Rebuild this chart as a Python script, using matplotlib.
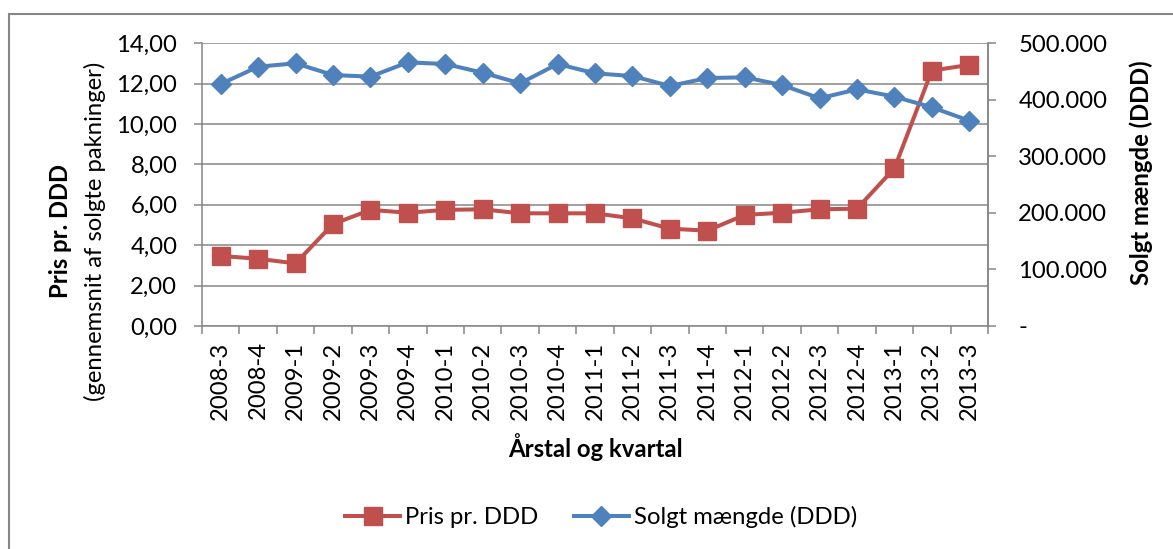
import matplotlib.pyplot as plt
from matplotlib.patches import Rectangle
from matplotlib.ticker import FuncFormatter, FixedLocator

# data
kvartaler = ['2008-3', '2008-4', '2009-1', '2009-2', '2009-3', '2009-4',
             '2010-1', '2010-2', '2010-3', '2010-4', '2011-1', '2011-2',
             '2011-3', '2011-4', '2012-1', '2012-2', '2012-3', '2012-4',
             '2013-1', '2013-2', '2013-3']
pris = [3.47, 3.33, 3.10, 5.05, 5.75, 5.61, 5.75, 5.78, 5.58, 5.58, 5.58,
        5.33, 4.82, 4.72, 5.50, 5.61, 5.78, 5.81, 7.81, 12.65, 12.93]
maengde = [428000, 458600, 464600, 443900, 441000, 466300, 463400, 448000,
           429200, 463400, 446900, 442100, 424500, 438600, 439800, 426200,
           402700, 418600, 405600, 386800, 363100]

venstre_ticks = [0, 2, 4, 6, 8, 10, 12, 14]
hoejre_ticks = [0, 100000, 200000, 300000, 400000, 500000]

plt.rcParams['font.family'] = ['Lato', 'DejaVu Sans']
fs = 17.2
rod = '#C0504D'
blaa = '#4F81BD'
graa = '#868686'

W, H = 1173, 549
def fx(px):
    return px / W
def fy(py):
    return 1 - py / H

fig = plt.figure(figsize=(W / 100, H / 100), dpi=100)
ax = fig.add_axes([fx(202), fy(326), fx(988) - fx(202), fy(43.3) - fy(326)])
x = list(range(len(kvartaler)))

# venstre akse: pris
ax.plot(x, pris, color=rod, lw=2.9, marker='s', ms=13, label='Pris pr. DDD')
ax.set_xlim(-0.5, len(kvartaler) - 0.5)
ax.set_ylim(0, 14)
ax.set_yticks(venstre_ticks)
ax.yaxis.set_major_formatter(FuncFormatter(lambda v, p: f'{v:.2f}'.replace('.', ',')))
ax.tick_params(axis='y', length=5.8, width=1.1, color=graa, pad=12, labelsize=fs)
ax.grid(axis='y', color=graa, lw=1.1)
ax.set_axisbelow(True)

# kategoriakse: streger mellem kategorier, labels i midten
ax.xaxis.set_major_locator(FixedLocator([i - 0.5 for i in range(len(kvartaler) + 1)]))
ax.xaxis.set_major_formatter(FuncFormatter(lambda v, p: ''))
ax.xaxis.set_minor_locator(FixedLocator(x))
ax.set_xticklabels(kvartaler, minor=True, rotation=90, fontsize=fs)
ax.tick_params(axis='x', which='major', length=5.8, width=1.1, color=graa)
ax.tick_params(axis='x', which='minor', length=0, pad=11)

for s in ['left', 'bottom', 'right']:
    ax.spines[s].set_color(graa)
    ax.spines[s].set_linewidth(1.1)
ax.spines['top'].set_visible(False)

# hoejre akse: maengde
ax2 = ax.twinx()
ax2.plot(x, maengde, color=blaa, lw=2.9, marker='D', ms=10, label='Solgt mængde (DDD)')
ax2.set_ylim(0, 500000)
ax2.set_yticks(hoejre_ticks)
ax2.yaxis.set_major_formatter(FuncFormatter(
    lambda v, p: '-' if v == 0 else f'{int(v):,}'.replace(',', '.')))
ax2.tick_params(axis='y', length=5.8, width=1.1, color=graa, pad=16, labelsize=fs)
for s in ['left', 'bottom', 'top']:
    ax2.spines[s].set_visible(False)
ax2.spines['right'].set_color(graa)
ax2.spines['right'].set_linewidth(1.1)

# aksetitler
fig.text(fx(60), fy(231), 'Pris pr. DDD', rotation=90, fontsize=fs,
         fontweight='bold', ha='center', va='center')
fig.text(fx(95), fy(231), '(gennemsnit af solgte pakninger)', rotation=90,
         fontsize=fs, ha='center', va='center')
fig.text(fx(1141), fy(173), 'Solgt mængde (DDD)', rotation=90, fontsize=fs,
         fontweight='bold', ha='center', va='center')
fig.text(fx(595), fy(447), 'Årstal og kvartal', fontsize=fs,
         fontweight='bold', ha='center', va='center')

# legende
h1, l1 = ax.get_legend_handles_labels()
h2, l2 = ax2.get_legend_handles_labels()
fig.legend(h1 + h2, l1 + l2, loc='center', bbox_to_anchor=(fx(601), fy(517)),
           ncol=2, frameon=False, fontsize=fs, handlelength=2.3,
           handletextpad=0.2, columnspacing=1.5, numpoints=1)

# ramme om diagrammet
fig.add_artist(Rectangle((fx(9), -0.1), 1.2, fy(13.5) + 0.1,
                         transform=fig.transFigure, fill=False, ec=graa, lw=1.5))

fig.savefig('out.png', dpi=100)
